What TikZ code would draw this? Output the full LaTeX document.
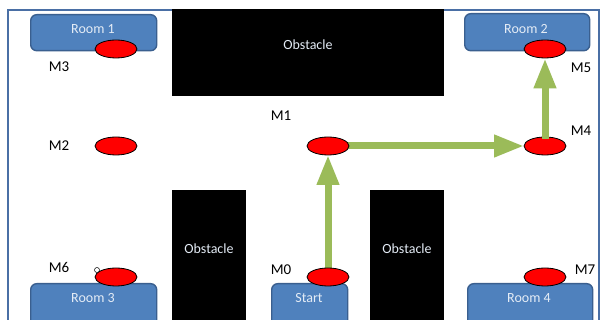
\documentclass[tikz,border=0pt]{standalone}
\usepackage{fontspec}
\setmainfont{Carlito}
\usetikzlibrary{arrows.meta,shapes.geometric}
\definecolor{roomfill}{HTML}{4F81BD}
\definecolor{roomdraw}{HTML}{3A5F8F}
\definecolor{pathgreen}{HTML}{9BBB59}
\definecolor{framecol}{HTML}{4A6FA5}
\definecolor{lighttext}{HTML}{E4ECF6}
\tikzset{
  room/.style={draw=roomdraw, line width=1.4pt, fill=roomfill, rounded corners=6pt, anchor=north west, inner sep=0pt},
  obst/.style={fill=black, anchor=north west, inner sep=0pt},
  boxtext/.style={text=lighttext, font=\fontsize{14}{15}\selectfont, inner sep=0pt},
  marker/.style={ellipse, draw=black, line width=0.8pt, fill=red, minimum width=42pt, minimum height=18pt, inner sep=0pt},
  lbl/.style={font=\fontsize{15}{16}\selectfont, inner sep=0pt},
  patharrow/.style={draw=pathgreen, line width=7pt, -{Triangle[width=21pt,length=30pt]}}
}
\begin{document}
\begin{tikzpicture}[x=1pt,y=-1pt]
\clip (0,0) rectangle (600,320);
\fill[white] (0,0) rectangle (600,320);
% frame
\draw[framecol, line width=2pt] (8,325) -- (8,10) -- (599,10) -- (599,325);
% obstacles
\node[obst, minimum width=272pt, minimum height=87pt] (obsT) at (172,9) {};
\node[boxtext] (tT) at (308,45) {Obstacle};
\node[obst, minimum width=74pt, minimum height=140pt] (obsL) at (172,190) {};
\node[boxtext] (tL) at (209,249) {Obstacle};
\node[obst, minimum width=74pt, minimum height=140pt] (obsR) at (370,190) {};
\node[boxtext] (tR) at (407,249) {Obstacle};
% rooms
\node[room, minimum width=126pt, minimum height=36pt] (room1) at (30,14) {};
\node[boxtext] (t1) at (93,29) {Room 1};
\node[room, minimum width=125pt, minimum height=37pt] (room2) at (464,13) {};
\node[boxtext] (t2) at (526,29) {Room 2};
\node[room, minimum width=126pt, minimum height=45pt] (room3) at (30,283) {};
\node[boxtext] (t3) at (93,298) {Room 3};
\node[room, minimum width=76pt, minimum height=45pt] (start) at (271,283) {};
\node[boxtext] (ts) at (309,298) {Start};
\node[room, minimum width=125pt, minimum height=45pt] (room4) at (467,283) {};
\node[boxtext] (t4) at (529,298) {Room 4};
% marker coordinates
\coordinate (pM0) at (328,277);
\coordinate (pM1) at (328,146);
\coordinate (pM4) at (545,146);
\coordinate (pM5) at (545,49);
% arrows under markers
\path[patharrow, shorten >=9pt] (pM0) -- (pM1);
\path[patharrow, shorten <=12pt, shorten >=21pt] (pM1) -- (pM4);
% markers
\node[marker] (M3) at (116,49) {};
\node[marker] (M2) at (116,146) {};
\node[marker] (M6) at (116,277) {};
\node[marker] (M1) at (pM1) {};
\node[marker] (M0) at (pM0) {};
\node[marker] (M5) at (pM5) {};
\node[marker] (M4) at (pM4) {};
\node[marker] (M7) at (545,277) {};
\path[patharrow, shorten <=7pt] (M4.center) -- (M5.south);
% handle
\node[circle, draw=black, fill=white, line width=0.5pt, minimum size=5pt, inner sep=0pt] (handle) at (97,270) {};
% labels
\node[lbl] (lM3) at (59,67) {M3};
\node[lbl] (lM2) at (59,146) {M2};
\node[lbl] (lM6) at (59,267) {M6};
\node[lbl] (lM1) at (281,116) {M1};
\node[lbl] (lM0) at (281,270) {M0};
\node[lbl] (lM5) at (581,68) {M5};
\node[lbl] (lM4) at (581,131) {M4};
\node[lbl] (lM7) at (585,270) {M7};
\end{tikzpicture}
\end{document}
